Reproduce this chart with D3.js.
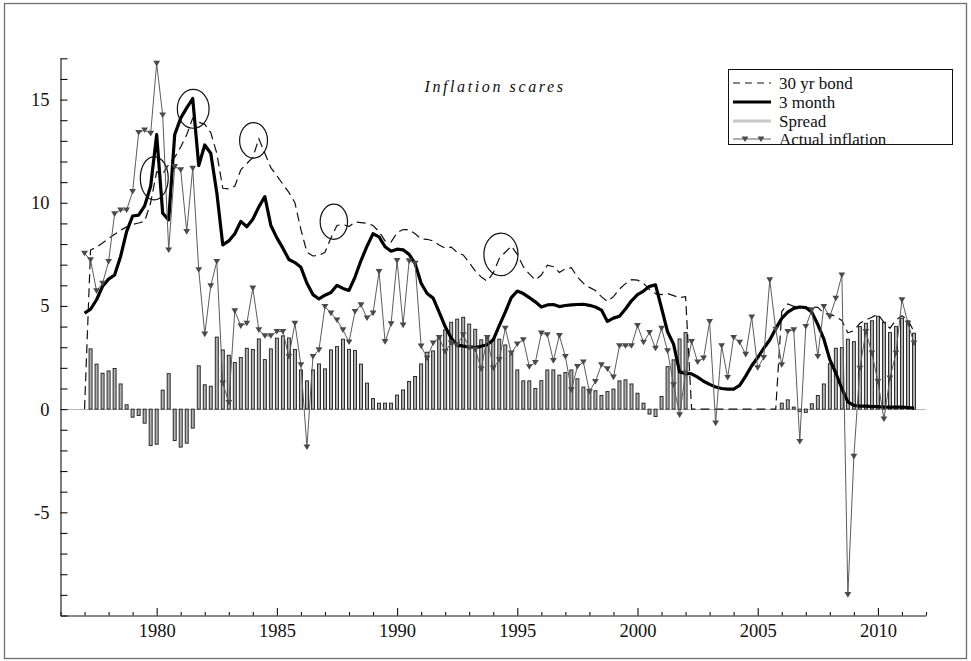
<!DOCTYPE html>
<html><head><meta charset="utf-8">
<script src="https://cdn.jsdelivr.net/npm/d3@7"></script>
<style>body{margin:0;background:#fff}</style>
</head><body><svg id="chart" width="971" height="661"></svg>
<script>
// ---- data (quarterly, starting 1977 Q1) ----
const startYear = 1977;
const quarterStep = 0.25;

const bond30 = [0,7.71,7.85,8.05,8.27,8.47,8.67,8.83,8.95,9.02,
  9.1,10.0,11.5,11.4,11.85,12.2,12.7,13.3,14.1,13.9,
  13.8,13.4,12.4,10.7,10.67,10.8,11.6,11.9,12.2,13.1,
  12.4,11.7,11.3,10.9,10.5,10.0,8.7,7.6,7.42,7.45,
  7.6,8.3,8.9,8.95,8.85,9.07,9.04,9.0,8.9,8.6,
  8.15,8.1,8.55,8.7,8.7,8.5,8.25,8.23,8.15,7.95,
  7.8,7.85,7.6,7.47,7.1,6.7,6.4,6.2,6.6,7.3,
  7.6,7.9,7.5,6.9,6.55,6.26,6.5,6.97,6.9,6.62,
  6.8,6.85,6.4,6.1,5.9,5.75,5.45,5.22,5.45,5.82,
  6.08,6.27,6.25,6.1,5.8,5.6,5.55,5.6,5.5,5.4,
  5.45,0,0,0,0,0,0,0,0,0,
  0,0,0,0,0,0,4.73,5.1,4.98,4.97,
  4.89,4.95,4.93,4.65,4.6,4.48,4.3,3.7,3.8,4.16,
  4.32,4.45,4.6,4.21,3.92,4.32,4.52,4.32,3.76];

const bill3m = [4.65,4.84,5.3,5.95,6.3,6.5,7.4,8.6,9.36,9.4,
  9.85,10.8,13.3,9.5,9.17,13.3,14.1,14.6,15.05,11.8,
  12.8,12.4,10.5,7.96,8.15,8.5,9.1,8.84,9.2,9.8,
  10.3,8.9,8.3,7.8,7.25,7.1,6.87,6.1,5.55,5.34,
  5.52,5.65,6.0,5.85,5.75,6.4,7.2,7.9,8.5,8.35,
  7.87,7.65,7.75,7.72,7.5,7.05,6.1,5.6,5.38,4.7,
  4.0,3.45,3.1,3.05,3.02,2.98,3.05,3.12,3.36,4.05,
  4.7,5.4,5.72,5.6,5.4,5.2,4.95,5.05,5.07,4.97,
  5.02,5.05,5.07,5.08,5.03,4.95,4.8,4.25,4.41,4.5,
  4.85,5.25,5.55,5.72,5.95,6.02,4.9,3.75,3.15,1.8,
  1.73,1.71,1.55,1.35,1.2,1.07,1.0,0.97,0.97,1.15,
  1.6,2.1,2.5,2.95,3.35,3.9,4.4,4.7,4.88,4.95,
  4.92,4.7,4.1,3.4,2.4,1.75,1.0,0.35,0.18,0.15,
  0.15,0.12,0.12,0.1,0.1,0.1,0.1,0.08,0.05];

const spread = [null,2.92,2.18,1.74,1.85,1.97,1.22,0.21,-0.39,-0.31,
  -0.68,-1.76,-1.7,0.92,1.72,-1.52,-1.84,-1.65,-0.92,2.1,
  1.18,1.11,3.49,2.87,2.61,2.26,2.5,2.95,2.89,3.4,
  2.4,2.92,3.44,3.55,3.45,2.89,1.9,1.37,1.9,2.19,
  1.95,2.87,3.03,3.39,2.9,2.84,2.18,1.26,0.51,0.29,
  0.29,0.29,0.68,0.93,1.34,1.58,2.19,2.76,2.82,3.49,
  3.84,4.21,4.36,4.45,4.12,3.87,3.36,3.52,3.39,3.39,
  3.11,2.66,1.9,1.37,1.37,1.0,1.38,1.9,1.9,1.65,
  1.77,1.9,1.47,1.07,0.97,0.89,0.66,0.85,0.97,1.37,
  1.42,1.22,0.77,0.29,-0.24,-0.36,0.61,2.06,2.39,3.4,
  3.71,null,null,null,null,null,null,null,null,null,
  null,null,null,null,null,null,0.29,0.45,0.1,-0.12,
  -0.16,0.26,0.66,1.22,2.2,2.95,2.98,3.39,3.27,4.0,
  4.16,4.28,4.5,4.21,3.71,4.0,4.41,4.28,3.68];

const inflation = [7.55,7.23,5.73,6.1,7.15,9.46,9.65,9.65,10.54,13.4,
  13.52,13.36,16.75,14.25,7.71,11.75,11.59,8.6,11.67,6.75,
  3.63,5.97,7.15,1.26,0.32,4.76,4.03,4.16,5.86,3.84,
  3.55,3.55,3.76,3.76,2.55,4.16,2.15,-1.84,2.55,2.87,
  4.97,4.65,4.32,3.84,3.25,4.73,5.05,4.41,4.65,6.66,
  3.27,4.13,7.2,4.07,7.18,7.07,3.05,2.47,3.2,3.47,
  2.79,3.2,3.11,3.6,2.98,2.9,1.94,3.47,1.99,2.39,
  3.92,2.71,3.15,3.36,2.05,2.26,3.68,3.6,2.35,3.56,
  2.55,0.93,2.06,2.28,0.85,1.34,2.15,1.95,1.55,3.07,
  3.07,3.07,4.05,3.24,3.71,2.95,3.92,2.82,1.18,-0.28,
  1.74,3.27,2.28,2.47,4.24,-0.68,3.07,1.53,3.47,3.24,
  2.65,4.46,2.0,2.5,6.26,3.87,2.15,3.76,3.84,-1.57,
  4.0,4.81,2.55,4.97,4.48,5.37,6.5,-8.99,-2.29,1.98,
  3.76,2.71,1.34,-0.48,1.5,2.71,5.29,4.16,3.2];

const seriesNames = ["30 yr bond", "3 month", "Spread", "Actual inflation"];
const chartTitle = "Inflation scares";
const yTickLabels = [-5, 0, 5, 10, 15];
const xTickLabels = [1980, 1985, 1990, 1995, 2000, 2005, 2010];
// annotation ellipses: [year, value, half-width in years, half-height in value units]
const circles = [
  [1979.9, 11.19, 0.58, 1.05],
  [1981.52, 14.55, 0.66, 0.94],
  [1984.03, 13.02, 0.58, 0.86],
  [1987.37, 9.08, 0.57, 0.85],
  [1994.32, 7.5, 0.71, 1.03]
];

// ---- drawing ----
const FONT = "'Liberation Serif','Times New Roman',serif";
const svg = d3.select("#chart");
svg.append("rect").attr("width", 971).attr("height", 661).attr("fill", "#fff");
svg.append("rect").attr("x", 4.5).attr("y", 3.5).attr("width", 962).attr("height", 655)
  .attr("fill", "none").attr("stroke", "#6e6e6e").attr("stroke-width", 1.3);

const x = d3.scaleLinear().domain([1976, 2012]).range([60.5, 926]);
const y = d3.scaleLinear().domain([-10, 17]).range([615.5, 58.3]);

const dates = bond30.map((_, i) => startYear + i * quarterStep);
const rows = dates.map((t, i) => ({t, bond: bond30[i], bill: bill3m[i], spread: spread[i], infl: inflation[i]}));

// zero reference line
svg.append("line").attr("x1", x(1976)).attr("x2", x(2012))
  .attr("y1", Math.round(y(0)) + 0.5).attr("y2", Math.round(y(0)) + 0.5)
  .attr("stroke", "#b8b8b8").attr("stroke-width", 1);

// spread bars
const bw = 3;
svg.append("g").selectAll("rect").data(rows.filter(d => d.spread !== null)).join("rect")
  .attr("x", d => x(d.t) - bw / 2)
  .attr("y", d => Math.min(y(d.spread), y(0)))
  .attr("width", bw)
  .attr("height", d => Math.abs(y(d.spread) - y(0)))
  .attr("fill", "#b0b0b0").attr("stroke", "#1a1a1a").attr("stroke-width", 0.9);

// axes
const yAxis = d3.axisLeft(y).tickValues(d3.range(-10, 18)).tickSize(-7).tickSizeOuter(0).tickPadding(11)
  .tickFormat(d => yTickLabels.includes(d) ? String(d) : "");
const gy = svg.append("g").attr("transform", "translate(60.5,0)").call(yAxis);
const xAxis = d3.axisBottom(x).tickValues(d3.range(1976, 2013)).tickSize(-3.5).tickSizeOuter(0).tickPadding(8)
  .tickFormat(d => xTickLabels.includes(d) ? String(d) : "");
const gx = svg.append("g").attr("transform", "translate(0,615.5)").call(xAxis);
gx.selectAll(".tick line").filter(d => xTickLabels.includes(d)).attr("y2", -7.5);
[gx, gy].forEach(g => {
  g.attr("font-family", FONT).attr("font-size", 18.5);
  g.selectAll("path,line").attr("stroke", "#111").attr("stroke-width", 1.1);
  g.selectAll("text").attr("font-family", FONT).attr("font-size", 18.5).attr("fill", "#111");
});

// lines
const lineGen = key => d3.line().x(d => x(d.t)).y(d => y(d[key]));
svg.append("path").datum(rows).attr("d", lineGen("bond"))
  .attr("fill", "none").attr("stroke", "#111").attr("stroke-width", 1.2).attr("stroke-dasharray", "9,5");
svg.append("path").datum(rows).attr("d", lineGen("bill"))
  .attr("fill", "none").attr("stroke", "#000").attr("stroke-width", 3.2).attr("stroke-linejoin", "round");
svg.append("path").datum(rows).attr("d", lineGen("infl"))
  .attr("fill", "none").attr("stroke", "#5c5c5c").attr("stroke-width", 1);
const tri = "M-3.4,-2.6L3.4,-2.6L0,3Z";
svg.append("g").selectAll("path").data(rows).join("path")
  .attr("d", tri).attr("transform", d => `translate(${x(d.t)},${y(d.infl)})`)
  .attr("fill", "#4a4a4a");

// annotation ellipses
svg.append("g").selectAll("ellipse").data(circles).join("ellipse")
  .attr("cx", d => x(d[0])).attr("cy", d => y(d[1]))
  .attr("rx", d => x(d[0] + d[2]) - x(d[0])).attr("ry", d => y(d[1]) - y(d[1] + d[3]))
  .attr("fill", "none").attr("stroke", "#111").attr("stroke-width", 1.2);

// title
svg.append("text").attr("x", 495).attr("y", 92).attr("text-anchor", "middle")
  .attr("font-family", FONT).attr("font-style", "italic").attr("font-size", 16)
  .attr("letter-spacing", 2.6).attr("fill", "#111").text(chartTitle);

// legend
const lg = svg.append("g");
lg.append("rect").attr("x", 728.5).attr("y", 69.5).attr("width", 224).attr("height", 75)
  .attr("fill", "#fff").attr("stroke", "#111").attr("stroke-width", 1);
const ly = [83, 102, 121, 139];
const styles = [
  {stroke: "#111", w: 1.2, dash: "7,5"},
  {stroke: "#000", w: 3.2, dash: null},
  {stroke: "#c8c8c8", w: 3, dash: null},
  {stroke: "#5c5c5c", w: 1, dash: null}
];
seriesNames.forEach((name, k) => {
  const s = styles[k];
  lg.append("line").attr("x1", 733).attr("x2", 771).attr("y1", ly[k]).attr("y2", ly[k])
    .attr("stroke", s.stroke).attr("stroke-width", s.w).attr("stroke-dasharray", s.dash);
  if (k === 3) {
    [745, 761].forEach(mx => lg.append("path").attr("d", tri)
      .attr("transform", `translate(${mx},${ly[k]})`).attr("fill", "#4a4a4a"));
  }
  lg.append("text").attr("x", 779).attr("y", ly[k] + 6).attr("font-family", FONT)
    .attr("font-size", 17).attr("fill", "#111").text(name);
});
</script></body></html>
